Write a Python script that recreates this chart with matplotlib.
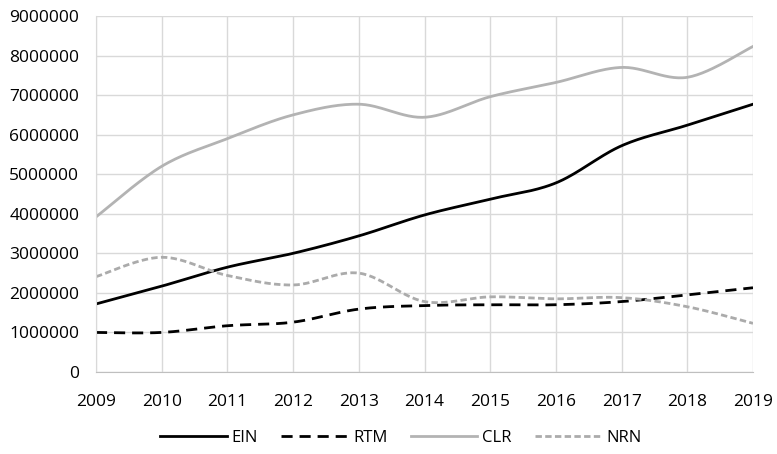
import matplotlib
matplotlib.use("Agg")
import matplotlib.pyplot as plt
import numpy as np

plt.rcParams['font.family'] = ['Open Sans', 'DejaVu Sans']

years = [2009, 2010, 2011, 2012, 2013, 2014, 2015, 2016, 2017, 2018, 2019]
ein = [1720000, 2170000, 2650000, 3000000, 3440000, 3970000, 4370000, 4780000, 5720000, 6240000, 6770000]
rtm = [1000000, 1000000, 1170000, 1260000, 1590000, 1680000, 1700000, 1700000, 1780000, 1950000, 2130000]
clr = [3920000, 5200000, 5900000, 6500000, 6770000, 6440000, 6960000, 7320000, 7700000, 7450000, 8230000]
nrn = [2410000, 2900000, 2440000, 2200000, 2500000, 1780000, 1900000, 1850000, 1880000, 1650000, 1230000]


# smooth the line like excel does (bezier through each point)
def smooth(xs, ys, n=30):
    xs = np.asarray(xs, float)
    ys = np.asarray(ys, float)
    px = np.concatenate([[xs[0]], xs, [xs[-1]]])
    py = np.concatenate([[ys[0]], ys, [ys[-1]]])
    outx, outy = [], []
    t = np.linspace(0, 1, n)
    for i in range(1, len(px) - 2):
        p0 = np.array([px[i], py[i]])
        p3 = np.array([px[i + 1], py[i + 1]])
        p1 = p0 + (np.array([px[i + 1], py[i + 1]]) - np.array([px[i - 1], py[i - 1]])) / 6
        p2 = p3 - (np.array([px[i + 2], py[i + 2]]) - np.array([px[i], py[i]])) / 6
        pts = ((1 - t) ** 3)[:, None] * p0 + (3 * (1 - t) ** 2 * t)[:, None] * p1 \
            + (3 * (1 - t) * t ** 2)[:, None] * p2 + (t ** 3)[:, None] * p3
        outx.extend(pts[:, 0])
        outy.extend(pts[:, 1])
    return outx, outy


fig = plt.figure(figsize=(7.77, 4.54), dpi=100)
ax = fig.add_axes([96 / 777, 1 - 372 / 454, (753 - 96) / 777, (372 - 16) / 454])

lw = 2.0
x, y = smooth(years, ein)
ax.plot(x, y, color='black', lw=lw, label='EIN')
x, y = smooth(years, rtm)
ax.plot(x, y, color='black', lw=lw, dashes=(4, 2.5), label='RTM')
x, y = smooth(years, clr)
ax.plot(x, y, color='#b3b3b3', lw=lw, label='CLR')
x, y = smooth(years, nrn)
ax.plot(x, y, color='#ababab', lw=lw, dashes=(2.3, 1.2), label='NRN')

ax.set_xlim(2009, 2019)
ax.set_ylim(0, 9000000)
ax.set_xticks(years)
ax.set_yticks(np.arange(0, 9000001, 1000000))
ax.set_yticklabels([str(int(v)) for v in np.arange(0, 9000001, 1000000)])
ax.grid(True, color='#d9d9d9', lw=1)
ax.set_axisbelow(True)
ax.tick_params(length=0, labelsize=12.5, colors='#000000')
ax.tick_params(axis='x', pad=16)
ax.tick_params(axis='y', pad=12)
for s in ['top', 'right']:
    ax.spines[s].set_visible(False)
ax.spines['left'].set_color('#d9d9d9')
ax.spines['bottom'].set_color('#bfbfbf')

fig.legend(loc='center', bbox_to_anchor=(401 / 777, 1 - 438 / 454), ncol=4, frameon=False,
           fontsize=12, handlelength=4.0, columnspacing=1.4, handletextpad=0.3)

fig.savefig('out.png', dpi=100)
